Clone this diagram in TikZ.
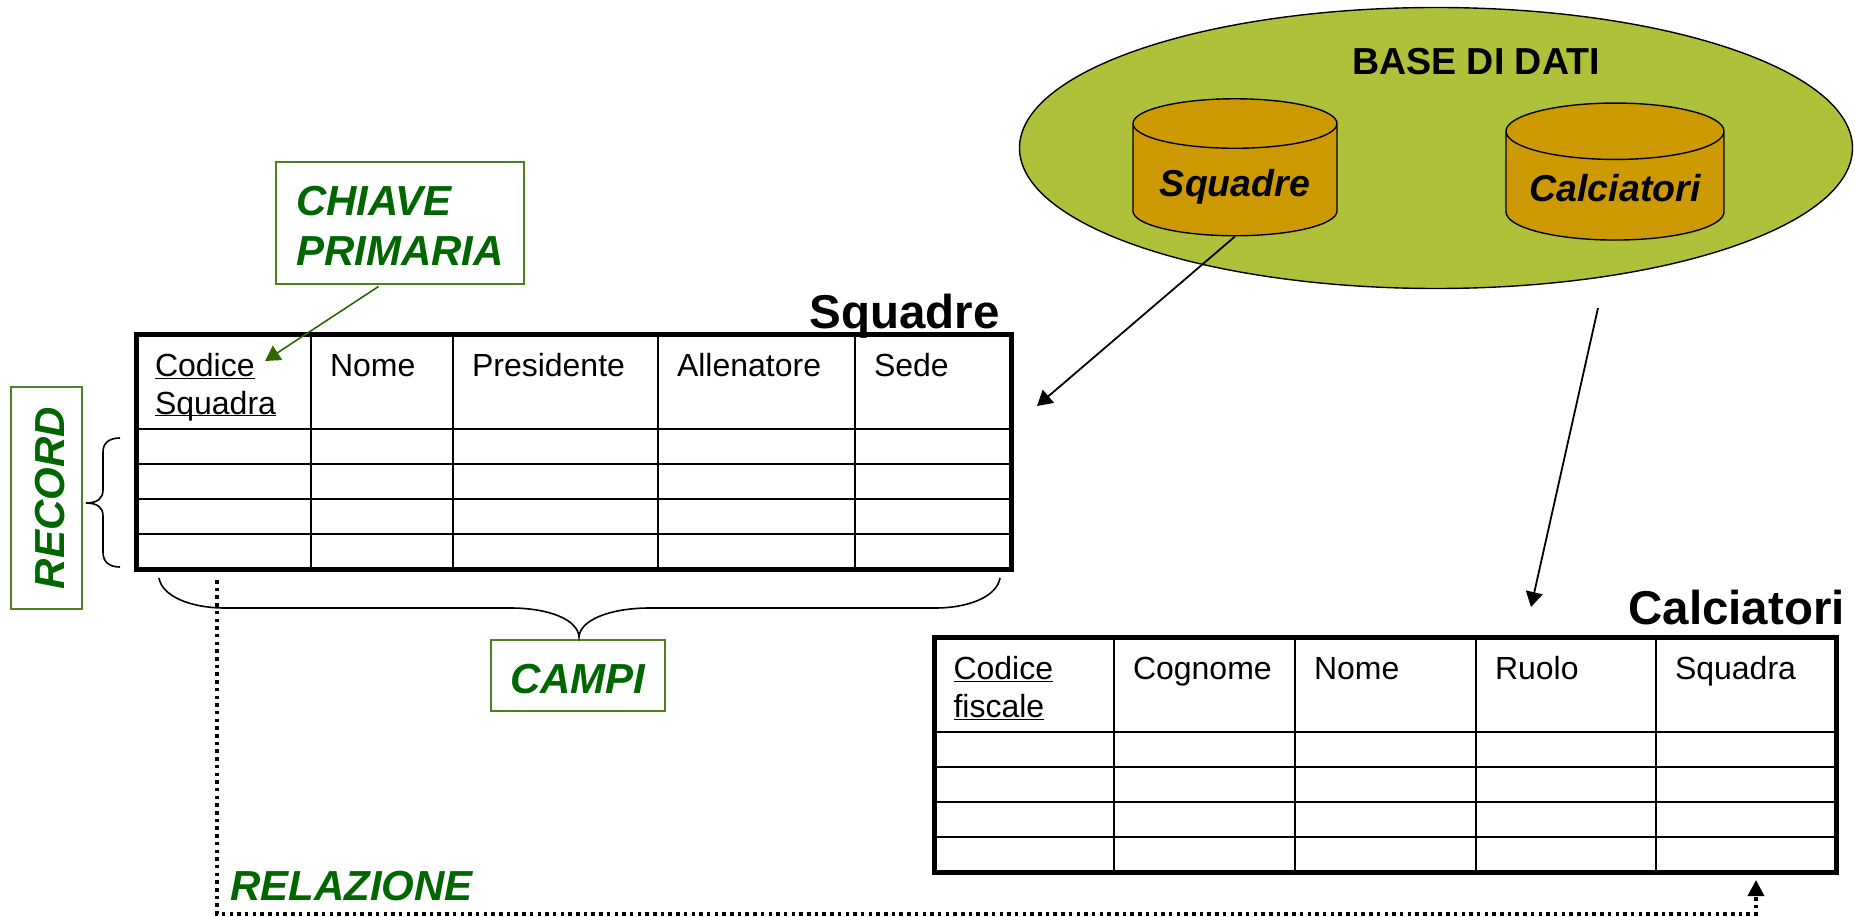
\documentclass[tikz,border=0pt]{standalone}
\usepackage{fontspec}
\setmainfont{Liberation Sans}
\usetikzlibrary{%
  arrows.meta,%
  matrix,%
  positioning,%
  shapes.geometric%
}
\definecolor{greenbox}{HTML}{4F7F1F}
\definecolor{greenarrow}{HTML}{336600}
\definecolor{greentext}{HTML}{006600}
\definecolor{dbolive}{HTML}{AFC13B}
\definecolor{dbgold}{HTML}{CC9900}

\newcommand{\topline}{\rule{0pt}{37pt}}
\newcommand{\botline}{\rule[-10pt]{0pt}{10pt}}
\newcommand{\lift}{\rule{0pt}{36pt}}

\begin{document}
\begin{tikzpicture}[x=1pt,y=-1pt,
	cell/.style={
	rectangle,draw=black,line width=2pt,
	inner xsep=19pt,inner ysep=0pt,outer sep=0pt,
	minimum height=35pt,align=left,
	font=\fontsize{32}{38}\selectfont
	},head/.style={
	cell,minimum height=95pt
	},table/.style={
	matrix,inner sep=0pt,outer sep=0pt,
	row sep=-2pt,column sep=-2pt
	},tabletitle/.style={
	font=\fontsize{47.5}{56}\selectfont\bfseries,inner sep=0pt
	},label/.style={
	text=greentext,inner sep=0pt,
	font=\fontsize{42}{50}\selectfont\bfseries\itshape
	},labelbox/.style={
	label,draw=greenbox,line width=1.6pt,minimum width=#1
	},barrel/.style={
	cylinder,shape border rotate=90,draw=black,line width=1.4pt,
	fill=dbgold,cylinder uses custom fill,
	cylinder end fill=dbgold,cylinder body fill=dbgold,
	aspect=0.33,inner sep=0pt,
	font=\fontsize{37.5}{44}\selectfont\bfseries\itshape
	},tip/.style={
	-{Triangle[length=15pt,width=17pt]},line width=1.8pt
	}
]
\useasboundingbox (0,0) rectangle (1855,917);

% Base di dati
\node (db) [ellipse,draw=black,line width=1.4pt,fill=dbolive,minimum width=833pt,minimum height=281pt] at (1436,148) {};
\node (dbname) [inner sep=0pt,font=\fontsize{37.6}{45}\selectfont\bfseries] at (1476,62) {BASE DI DATI};
\node (dbsquadre) [barrel,minimum width=204pt,minimum height=137pt] at (1235,180) {\rule{0pt}{41pt}Squadre};
\node (dbcalciatori) [barrel,minimum width=218pt,minimum height=137pt] at (1615,186) {\rule{0pt}{31pt}Calciatori\hspace{5pt}};

% First table
\matrix (squadre) [table,anchor=north west,
	column 1/.style={nodes={text width=137pt}},
	column 2/.style={nodes={text width=104pt}},
	column 3/.style={nodes={text width=167pt}},
	column 4/.style={nodes={text width=159pt}},
	column 5/.style={nodes={text width=118.5pt}}] at (135,333) {
% Header row
\node (s11) [head] {\topline\underline{Codice}\\\underline{\smash{Squadra}}\botline}; & \node (s12) [head] {\topline Nome\\\botline}; & \node (s13) [head] {\topline Presidente\\\botline}; & \node (s14) [head] {\topline Allenatore\\\botline}; & \node (s15) [head] {\topline Sede\\\botline}; \\
\node (s21) [cell] {}; & \node (s22) [cell] {}; & \node (s23) [cell] {}; & \node (s24) [cell] {}; & \node (s25) [cell] {}; \\
\node (s31) [cell] {}; & \node (s32) [cell] {}; & \node (s33) [cell] {}; & \node (s34) [cell] {}; & \node (s35) [cell] {}; \\
\node (s41) [cell] {}; & \node (s42) [cell] {}; & \node (s43) [cell] {}; & \node (s44) [cell] {}; & \node (s45) [cell] {}; \\
\node (s51) [cell] {}; & \node (s52) [cell] {}; & \node (s53) [cell] {}; & \node (s54) [cell] {}; & \node (s55) [cell] {}; \\
};
\draw[line width=5pt] (s11.north west) rectangle (s55.south east);
\node (squadretitle) [tabletitle,anchor=base east] at (1000,328) {Squadre};

% Second table
\matrix (calciatori) [table,anchor=north west,
	column 1/.style={nodes={text width=141.5pt}},
	column 2/.style={nodes={text width=143pt}},
	column 3/.style={nodes={text width=143pt}},
	column 4/.style={nodes={text width=142pt}},
	column 5/.style={nodes={text width=142pt}}] at (933.5,636) {
% Header row
\node (c11) [head] {\topline\underline{Codice}\\\underline{fiscale}\botline}; & \node (c12) [head] {\topline Cognome\\\botline}; & \node (c13) [head] {\topline Nome\\\botline}; & \node (c14) [head] {\topline Ruolo\\\botline}; & \node (c15) [head] {\topline Squadra\\\botline}; \\
\node (c21) [cell] {}; & \node (c22) [cell] {}; & \node (c23) [cell] {}; & \node (c24) [cell] {}; & \node (c25) [cell] {}; \\
\node (c31) [cell] {}; & \node (c32) [cell] {}; & \node (c33) [cell] {}; & \node (c34) [cell] {}; & \node (c35) [cell] {}; \\
\node (c41) [cell] {}; & \node (c42) [cell] {}; & \node (c43) [cell] {}; & \node (c44) [cell] {}; & \node (c45) [cell] {}; \\
\node (c51) [cell] {}; & \node (c52) [cell] {}; & \node (c53) [cell] {}; & \node (c54) [cell] {}; & \node (c55) [cell] {}; \\
};
\draw[line width=5pt] (c11.north west) rectangle (c55.south east);
\node (calciatorititle) [tabletitle,anchor=base east] at (1845,624) {Calciatori};

% Labels
\node (chiave) [labelbox=248pt,minimum height=122pt,align=left,text width=208pt,inner xsep=20pt] at (400,223) {\lift CHIAVE\\PRIMARIA};
\node (record) [labelbox=222pt,minimum height=71pt,rotate=90] at (46.5,498) {\lift RECORD};
\node (campi) [labelbox=174pt,minimum height=71pt] at (578,675.5) {\lift CAMPI};
\node (relazione) [label,anchor=base west] at (230,900) {RELAZIONE};

% Braces
\draw[line width=1.6pt] (120,438) .. controls (108,438) and (103,444) .. (103,452) -- (103,490)
	.. controls (103,498) and (98,503) .. (86,503) .. controls (98,503) and (103,508) .. (103,516)
	-- (103,552) .. controls (103,561) and (108,567) .. (120,567);
\draw[line width=1.6pt] (159,578) .. controls (162,596) and (190,608) .. (225,608) -- (510,608)
	.. controls (550,608) and (578,620) .. (579,637) .. controls (580,620) and (610,608) .. (650,608)
	-- (935,608) .. controls (970,608) and (997,596) .. (1000,578);

% Connectors
\coordinate (squadrein) at (1037,406);
\coordinate (calciatoriout) at (1598,308);
\coordinate (calciatoriin) at (1531,607);
\coordinate (chiavein) at (265,361);
\coordinate (relstart) at (217,580);
\coordinate (relcorner1) at (217,914);
\coordinate (relcorner2) at (1756,914);
\coordinate (relend) at (1756,880);

\path (dbsquadre.south) edge[tip] (squadrein)
	(calciatoriout) edge[tip] (calciatoriin)
	(chiave.253) edge[draw=greenarrow,line width=1.6pt,shorten <=3pt,-{Triangle[length=15pt,width=17pt]}] (chiavein);
\draw[line width=3.5pt,dash pattern=on 3.5pt off 4.2pt,-{Triangle[length=16pt,width=16pt]}] (relstart) -- (relcorner1) -- (relcorner2) -- (relend);

\end{tikzpicture}
\end{document}
